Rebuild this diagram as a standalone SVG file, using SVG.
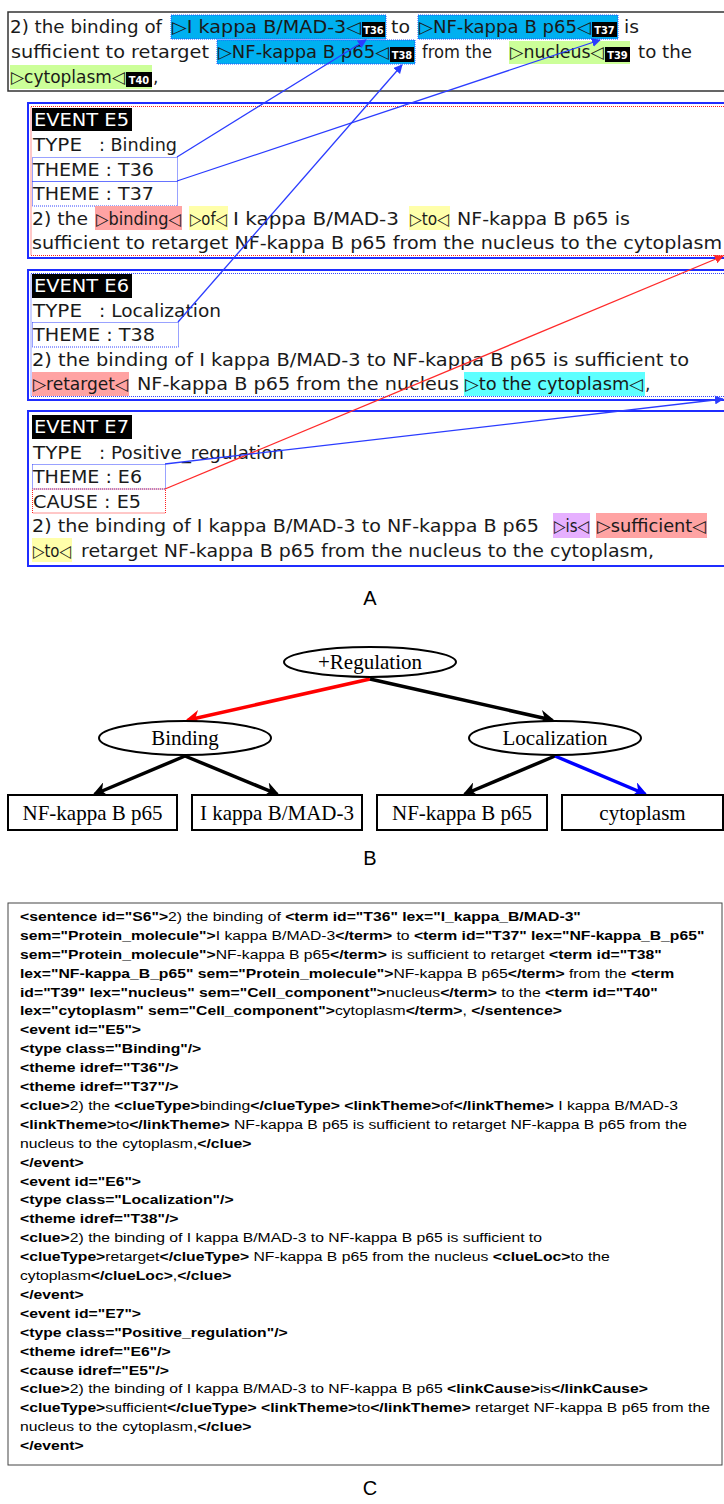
<svg xmlns="http://www.w3.org/2000/svg" width="724" height="1504" viewBox="0 0 724 1504">
<style>
.a{font-family:"DejaVu Sans","Noto Sans CJK JP",sans-serif;font-size:17px;fill:#1a1a1a}
.w{fill:#fff}
.tag{font-family:"DejaVu Sans Condensed","DejaVu Sans",sans-serif;font-size:11px;font-weight:bold;fill:#fff;text-anchor:middle}
.tagbg{fill:#000}
.hb{fill:#00b0f0;stroke:#2a4cff;stroke-width:1;stroke-dasharray:1 1}
.hg{fill:#ccff99}
.hp{fill:#ffa3a3}
.hy{fill:#ffffaa}
.hc{fill:#5effff}
.hv{fill:#e6b0ff}
.ev{fill:#fff;stroke:#1f2dff;stroke-width:2}
.dotb{fill:none;stroke:#3344ff;stroke-width:1;stroke-dasharray:1 1}
.dotr{fill:none;stroke:#ff2020;stroke-width:1;stroke-dasharray:1 1}
.lab{fill:#000}
.cb{fill:none;stroke:#2b3cff;stroke-width:1.3}
.cr{fill:none;stroke:#ff2a2a;stroke-width:1.3}
.ell{fill:#fff;stroke:#000;stroke-width:2}
.box{fill:#fff;stroke:#000;stroke-width:2}
.bt{font-family:"Liberation Serif","Times New Roman",serif;font-size:21px;fill:#000;text-anchor:middle}
.e{fill:none;stroke-width:3.5}
.pl{font-family:"Liberation Sans",Arial,sans-serif;font-size:20px;fill:#000;text-anchor:middle}
.c{font-family:"Liberation Sans",Arial,sans-serif;font-size:13.5px;fill:#000}
.c tspan.b{font-weight:bold}
</style>
<defs>
<marker id="ab" viewBox="0 0 10 10" refX="9" refY="5" markerWidth="9" markerHeight="9" markerUnits="userSpaceOnUse" orient="auto"><path d="M0,0 L10,5 L0,10 z" fill="#2b3cff"/></marker>
<marker id="ar" viewBox="0 0 10 10" refX="9" refY="5" markerWidth="9" markerHeight="9" markerUnits="userSpaceOnUse" orient="auto"><path d="M0,0 L10,5 L0,10 z" fill="#ff2a2a"/></marker>
<marker id="bk" viewBox="0 0 10 10" refX="8" refY="5" markerWidth="15" markerHeight="15" markerUnits="userSpaceOnUse" orient="auto"><path d="M0,0 L10,5 L0,10 L3,5 z" fill="#000"/></marker>
<marker id="bred" viewBox="0 0 10 10" refX="8" refY="5" markerWidth="15" markerHeight="15" markerUnits="userSpaceOnUse" orient="auto"><path d="M0,0 L10,5 L0,10 L3,5 z" fill="#ff0000"/></marker>
<marker id="bblue" viewBox="0 0 10 10" refX="8" refY="5" markerWidth="15" markerHeight="15" markerUnits="userSpaceOnUse" orient="auto"><path d="M0,0 L10,5 L0,10 L3,5 z" fill="#0000ff"/></marker>
</defs>
<rect width="724" height="1504" fill="#fff"/>

<!-- Panel A: sentence -->
<g id="sentence">
<rect x="8" y="12" width="730" height="79" fill="#fff" stroke="#333" stroke-width="1.5"/>
<rect class="hb" x="171" y="15" width="215" height="24"/>
<rect class="hb" x="418" y="15" width="200" height="24"/>
<rect class="hb" x="217" y="40" width="198" height="24"/>
<rect class="hg" x="509" y="41" width="121" height="23"/>
<rect class="hg" x="10" y="65" width="142" height="24"/>
<text class="a" x="10" y="33" textLength="152" lengthAdjust="spacingAndGlyphs">2) the binding of</text>
<text class="a" x="172" y="33" textLength="189" lengthAdjust="spacingAndGlyphs">▷I kappa B/MAD-3◁</text>
<rect class="tagbg" x="362" y="22" width="23" height="15"/><text class="tag" x="373.5" y="34">T36</text>
<text class="a" x="391" y="33" textLength="19" lengthAdjust="spacingAndGlyphs">to</text>
<text class="a" x="419" y="33" textLength="172" lengthAdjust="spacingAndGlyphs">▷NF-kappa B p65◁</text>
<rect class="tagbg" x="592" y="22" width="25" height="15"/><text class="tag" x="604.5" y="34">T37</text>
<text class="a" x="624" y="33" textLength="15" lengthAdjust="spacingAndGlyphs">is</text>
<text class="a" x="11" y="58" textLength="198" lengthAdjust="spacingAndGlyphs">sufficient to retarget</text>
<text class="a" x="218" y="58" textLength="171" lengthAdjust="spacingAndGlyphs">▷NF-kappa B p65◁</text>
<rect class="tagbg" x="390" y="47" width="24" height="15"/><text class="tag" x="402" y="59">T38</text>
<text class="a" x="422" y="58" textLength="70" lengthAdjust="spacingAndGlyphs">from the</text>
<text class="a" x="510" y="58" textLength="94" lengthAdjust="spacingAndGlyphs">▷nucleus◁</text>
<rect class="tagbg" x="605" y="47" width="25" height="15"/><text class="tag" x="617.5" y="59">T39</text>
<text class="a" x="638" y="58" textLength="54" lengthAdjust="spacingAndGlyphs">to the</text>
<text class="a" x="11" y="83" textLength="114" lengthAdjust="spacingAndGlyphs">▷cytoplasm◁</text>
<rect class="tagbg" x="126" y="72" width="26" height="15"/><text class="tag" x="139" y="84">T40</text>
<text class="a" x="153" y="83">,</text>
</g>

<!-- Event E5 -->
<g id="event-E5">
<rect class="ev" x="28" y="103" width="712" height="155"/>
<rect class="dotr" x="31" y="106.5" width="708" height="149"/>
<rect class="lab" x="32" y="108" width="100" height="23"/>
<text class="a w" x="34" y="126" textLength="95" lengthAdjust="spacingAndGlyphs">EVENT E5</text>
<text class="a" x="33" y="151" textLength="49" lengthAdjust="spacingAndGlyphs">TYPE</text>
<text class="a" x="99" y="151" textLength="78" lengthAdjust="spacingAndGlyphs">: Binding</text>
<rect class="dotb" x="32.5" y="157.5" width="145" height="24"/>
<text class="a" x="33" y="176" textLength="121" lengthAdjust="spacingAndGlyphs">THEME : T36</text>
<rect class="dotb" x="32.5" y="181.5" width="145" height="24.5"/>
<text class="a" x="33" y="200" textLength="121" lengthAdjust="spacingAndGlyphs">THEME : T37</text>
<rect class="hp" x="95" y="206" width="87" height="24"/>
<rect class="hy" x="189" y="206" width="39" height="24"/>
<rect class="hy" x="409" y="206" width="41" height="24"/>
<text class="a" x="32" y="225" textLength="56" lengthAdjust="spacingAndGlyphs">2) the</text>
<text class="a" x="96" y="225" textLength="85" lengthAdjust="spacingAndGlyphs">▷binding◁</text>
<text class="a" x="190" y="225" textLength="37" lengthAdjust="spacingAndGlyphs">▷of◁</text>
<text class="a" x="233" y="225" textLength="166" lengthAdjust="spacingAndGlyphs">I kappa B/MAD-3</text>
<text class="a" x="410" y="225" textLength="39" lengthAdjust="spacingAndGlyphs">▷to◁</text>
<text class="a" x="457" y="225" textLength="173" lengthAdjust="spacingAndGlyphs">NF-kappa B p65 is</text>
<text class="a" x="32" y="249" textLength="690" lengthAdjust="spacingAndGlyphs">sufficient to retarget NF-kappa B p65 from the nucleus to the cytoplasm</text>
</g>

<!-- Event E6 -->
<g id="event-E6">
<rect class="ev" x="28" y="270" width="712" height="130"/>
<rect class="dotb" x="31" y="273.5" width="708" height="123"/>
<rect class="lab" x="32" y="274" width="100" height="24"/>
<text class="a w" x="34" y="292" textLength="95" lengthAdjust="spacingAndGlyphs">EVENT E6</text>
<text class="a" x="33" y="317" textLength="49" lengthAdjust="spacingAndGlyphs">TYPE</text>
<text class="a" x="99" y="317" textLength="122" lengthAdjust="spacingAndGlyphs">: Localization</text>
<rect class="dotb" x="32.5" y="322.5" width="146" height="24.5"/>
<text class="a" x="33" y="341" textLength="122" lengthAdjust="spacingAndGlyphs">THEME : T38</text>
<text class="a" x="32" y="366" textLength="657" lengthAdjust="spacingAndGlyphs">2) the binding of I kappa B/MAD-3 to NF-kappa B p65 is sufficient to</text>
<rect class="hp" x="32" y="372" width="97" height="24"/>
<rect class="hc" x="464" y="372" width="181" height="24"/>
<text class="a" x="33" y="390" textLength="95" lengthAdjust="spacingAndGlyphs">▷retarget◁</text>
<text class="a" x="137" y="390" textLength="322" lengthAdjust="spacingAndGlyphs">NF-kappa B p65 from the nucleus</text>
<text class="a" x="465" y="390" textLength="178" lengthAdjust="spacingAndGlyphs">▷to the cytoplasm◁</text>
<text class="a" x="645" y="390">,</text>
</g>

<!-- Event E7 -->
<g id="event-E7">
<rect class="ev" x="28" y="411" width="712" height="155"/>
<rect class="lab" x="32" y="415" width="100" height="24"/>
<text class="a w" x="34" y="433" textLength="95" lengthAdjust="spacingAndGlyphs">EVENT E7</text>
<text class="a" x="33" y="459" textLength="49" lengthAdjust="spacingAndGlyphs">TYPE</text>
<text class="a" x="99" y="459" textLength="185" lengthAdjust="spacingAndGlyphs">: Positive_regulation</text>
<rect class="dotb" x="32.5" y="464.5" width="133" height="24.5"/>
<text class="a" x="33" y="483" textLength="109" lengthAdjust="spacingAndGlyphs">THEME : E6</text>
<rect class="dotr" x="32.5" y="489" width="133" height="24"/>
<text class="a" x="33" y="508" textLength="108" lengthAdjust="spacingAndGlyphs">CAUSE : E5</text>
<rect class="hv" x="553" y="513" width="37" height="25"/>
<rect class="hp" x="596" y="513" width="111" height="25"/>
<text class="a" x="32" y="532" textLength="507" lengthAdjust="spacingAndGlyphs">2) the binding of I kappa B/MAD-3 to NF-kappa B p65</text>
<text class="a" x="554" y="532" textLength="35" lengthAdjust="spacingAndGlyphs">▷is◁</text>
<text class="a" x="597" y="532" textLength="109" lengthAdjust="spacingAndGlyphs">▷sufficient◁</text>
<rect class="hy" x="32" y="538" width="40" height="24"/>
<text class="a" x="33" y="557" textLength="38" lengthAdjust="spacingAndGlyphs">▷to◁</text>
<text class="a" x="81" y="557" textLength="573" lengthAdjust="spacingAndGlyphs">retarget NF-kappa B p65 from the nucleus to the cytoplasm,</text>
</g>

<g id="connectors-A">
<line class="cb" x1="177" y1="157" x2="366" y2="40" marker-end="url(#ab)"/>
<line class="cb" x1="177" y1="181" x2="600" y2="40" marker-end="url(#ab)"/>
<line class="cb" x1="178" y1="322" x2="402" y2="65" marker-end="url(#ab)"/>
<line class="cr" x1="165" y1="489" x2="723" y2="256" marker-end="url(#ar)"/>
<line class="cb" x1="165" y1="464" x2="723" y2="399" marker-end="url(#ab)"/>
</g>

<text class="pl" x="370" y="605">A</text>

<!-- Panel B -->
<g id="connectors-B">
<line class="e" stroke="#ff0000" x1="370" y1="679" x2="188" y2="720" marker-end="url(#bred)"/>
<line class="e" stroke="#000" x1="370" y1="679" x2="552" y2="720" marker-end="url(#bk)"/>
<line class="e" stroke="#000" x1="185" y1="756" x2="95" y2="794" marker-end="url(#bk)"/>
<line class="e" stroke="#000" x1="185" y1="756" x2="277" y2="794" marker-end="url(#bk)"/>
<line class="e" stroke="#000" x1="555" y1="756" x2="465" y2="794" marker-end="url(#bk)"/>
<line class="e" stroke="#0000ff" x1="555" y1="756" x2="645" y2="794" marker-end="url(#bblue)"/>
</g>
<g id="node-regulation"><ellipse class="ell" cx="370" cy="662" rx="86" ry="15"/><text class="bt" x="370" y="669">+Regulation</text></g>
<g id="node-binding"><ellipse class="ell" cx="185" cy="738" rx="86" ry="17"/><text class="bt" x="185" y="745">Binding</text></g>
<g id="node-localization"><ellipse class="ell" cx="555" cy="738" rx="86" ry="17"/><text class="bt" x="555" y="745">Localization</text></g>
<g id="node-nfkb1"><rect class="box" x="8" y="795" width="169" height="35"/><text class="bt" x="92.5" y="820">NF-kappa B p65</text></g>
<g id="node-ikb"><rect class="box" x="192" y="795" width="170" height="35"/><text class="bt" x="277" y="820">I kappa B/MAD-3</text></g>
<g id="node-nfkb2"><rect class="box" x="377" y="795" width="170" height="35"/><text class="bt" x="462" y="820">NF-kappa B p65</text></g>
<g id="node-cytoplasm"><rect class="box" x="562" y="795" width="161" height="35"/><text class="bt" x="642.5" y="820">cytoplasm</text></g>

<text class="pl" x="370" y="865">B</text>

<!-- Panel C -->
<g id="xml">
<rect x="8" y="903" width="714" height="562" fill="#fff" stroke="#444" stroke-width="1"/>
<g transform="matrix(1.165 0 0 1 20 0)">
<text class="c" x="0" y="921"><tspan class="b">&lt;sentence id="S6"&gt;</tspan>2) the binding of <tspan class="b">&lt;term id="T36" lex="I_kappa_B/MAD-3"</tspan></text>
<text class="c" x="0" y="939.9"><tspan class="b">sem="Protein_molecule"&gt;</tspan>I kappa B/MAD-3<tspan class="b">&lt;/term&gt;</tspan> to <tspan class="b">&lt;term id="T37" lex="NF-kappa_B_p65"</tspan></text>
<text class="c" x="0" y="958.8"><tspan class="b">sem="Protein_molecule"&gt;</tspan>NF-kappa B p65<tspan class="b">&lt;/term&gt;</tspan> is sufficient to retarget <tspan class="b">&lt;term id="T38"</tspan></text>
<text class="c" x="0" y="977.7"><tspan class="b">lex="NF-kappa_B_p65" sem="Protein_molecule"&gt;</tspan>NF-kappa B p65<tspan class="b">&lt;/term&gt;</tspan> from the <tspan class="b">&lt;term</tspan></text>
<text class="c" x="0" y="996.6"><tspan class="b">id="T39" lex="nucleus" sem="Cell_component"&gt;</tspan>nucleus<tspan class="b">&lt;/term&gt;</tspan> to the <tspan class="b">&lt;term id="T40"</tspan></text>
<text class="c" x="0" y="1015.5"><tspan class="b">lex="cytoplasm" sem="Cell_component"&gt;</tspan>cytoplasm<tspan class="b">&lt;/term&gt;</tspan>, <tspan class="b">&lt;/sentence&gt;</tspan></text>
<text class="c" x="0" y="1034.4"><tspan class="b">&lt;event id="E5"&gt;</tspan></text>
<text class="c" x="0" y="1053.3"><tspan class="b">&lt;type class="Binding"/&gt;</tspan></text>
<text class="c" x="0" y="1072.2"><tspan class="b">&lt;theme idref="T36"/&gt;</tspan></text>
<text class="c" x="0" y="1091.1"><tspan class="b">&lt;theme idref="T37"/&gt;</tspan></text>
<text class="c" x="0" y="1110"><tspan class="b">&lt;clue&gt;</tspan>2) the <tspan class="b">&lt;clueType&gt;</tspan>binding<tspan class="b">&lt;/clueType&gt; &lt;linkTheme&gt;</tspan>of<tspan class="b">&lt;/linkTheme&gt;</tspan> I kappa B/MAD-3</text>
<text class="c" x="0" y="1128.9"><tspan class="b">&lt;linkTheme&gt;</tspan>to<tspan class="b">&lt;/linkTheme&gt;</tspan> NF-kappa B p65 is sufficient to retarget NF-kappa B p65 from the</text>
<text class="c" x="0" y="1147.8">nucleus to the cytoplasm,<tspan class="b">&lt;/clue&gt;</tspan></text>
<text class="c" x="0" y="1166.7"><tspan class="b">&lt;/event&gt;</tspan></text>
<text class="c" x="0" y="1185.6"><tspan class="b">&lt;event id="E6"&gt;</tspan></text>
<text class="c" x="0" y="1204.5"><tspan class="b">&lt;type class="Localization"/&gt;</tspan></text>
<text class="c" x="0" y="1223.4"><tspan class="b">&lt;theme idref="T38"/&gt;</tspan></text>
<text class="c" x="0" y="1242.3"><tspan class="b">&lt;clue&gt;</tspan>2) the binding of I kappa B/MAD-3 to NF-kappa B p65 is sufficient to</text>
<text class="c" x="0" y="1261.2"><tspan class="b">&lt;clueType&gt;</tspan>retarget<tspan class="b">&lt;/clueType&gt;</tspan> NF-kappa B p65 from the nucleus <tspan class="b">&lt;clueLoc&gt;</tspan>to the</text>
<text class="c" x="0" y="1280.1">cytoplasm<tspan class="b">&lt;/clueLoc&gt;</tspan>,<tspan class="b">&lt;/clue&gt;</tspan></text>
<text class="c" x="0" y="1299"><tspan class="b">&lt;/event&gt;</tspan></text>
<text class="c" x="0" y="1317.9"><tspan class="b">&lt;event id="E7"&gt;</tspan></text>
<text class="c" x="0" y="1336.8"><tspan class="b">&lt;type class="Positive_regulation"/&gt;</tspan></text>
<text class="c" x="0" y="1355.7"><tspan class="b">&lt;theme idref="E6"/&gt;</tspan></text>
<text class="c" x="0" y="1374.6"><tspan class="b">&lt;cause idref="E5"/&gt;</tspan></text>
<text class="c" x="0" y="1393.5"><tspan class="b">&lt;clue&gt;</tspan>2) the binding of I kappa B/MAD-3 to NF-kappa B p65 <tspan class="b">&lt;linkCause&gt;</tspan>is<tspan class="b">&lt;/linkCause&gt;</tspan></text>
<text class="c" x="0" y="1412.4"><tspan class="b">&lt;clueType&gt;</tspan>sufficient<tspan class="b">&lt;/clueType&gt; &lt;linkTheme&gt;</tspan>to<tspan class="b">&lt;/linkTheme&gt;</tspan> retarget NF-kappa B p65 from the</text>
<text class="c" x="0" y="1431.3">nucleus to the cytoplasm,<tspan class="b">&lt;/clue&gt;</tspan></text>
<text class="c" x="0" y="1450.2"><tspan class="b">&lt;/event&gt;</tspan></text>
</g>
</g>

<text class="pl" x="370" y="1495">C</text>
</svg>
